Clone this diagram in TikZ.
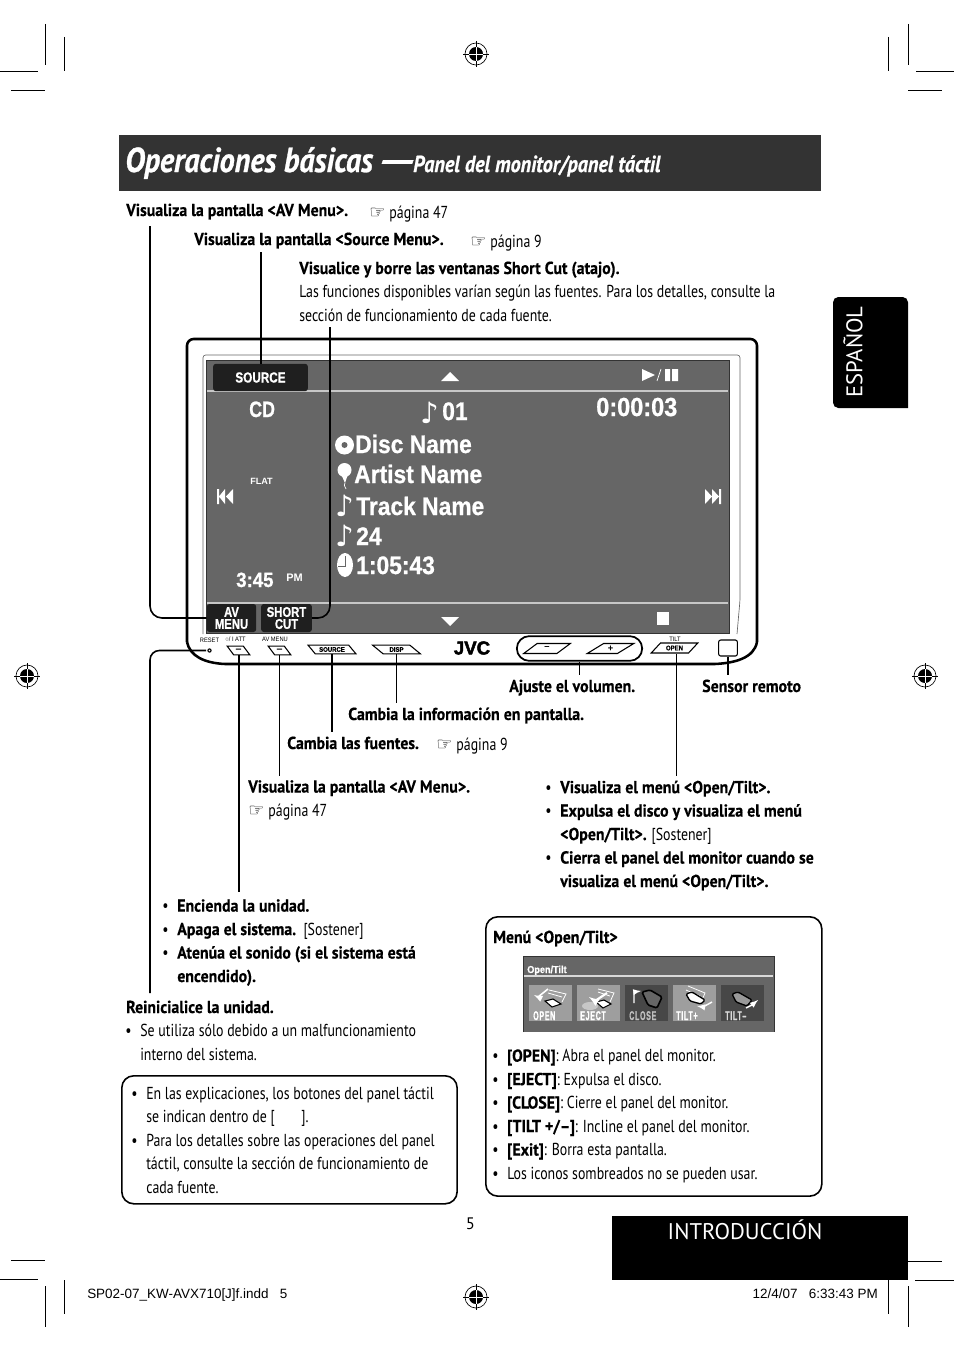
\documentclass[tikz,border=0pt]{standalone}
\usepackage{fontspec}
\usepackage{tikz}
\usetikzlibrary{positioning, shapes.geometric, shapes.misc}
\setmainfont[FakeStretch=0.80, BoldFeatures={FakeStretch=0.915, FakeBold=0.4}, BoldItalicFeatures={FakeStretch=0.87, FakeBold=0.8}]{PT Sans}
\newfontfamily\dispfont[FakeStretch=0.90, BoldFeatures={FakeBold=0.8}]{Liberation Sans}
\newfontfamily\dispnarrow[FakeStretch=0.80, BoldFeatures={FakeBold=0.8}]{Liberation Sans}
\newfontfamily\wideform{Liberation Sans}
\newfontfamily\logofont[BoldFeatures={FakeBold=2.5}]{Liberation Sans}
\newfontfamily\iconfont[FakeStretch=0.55, LetterSpace=6, BoldFeatures={FakeBold=1}]{Liberation Sans}
\newfontfamily\symfont{DejaVu Sans}
\newfontfamily\tabfont{PT Sans}
\newcommand{\hand}{{\symfont\fontsize{13.5}{14}\selectfont ☞}\hspace{3pt}}

\begin{document}
\begin{tikzpicture}[x=0.75pt, y=-0.75pt,
  txt/.style={anchor=base west, yshift=-0.75pt, inner sep=0pt, align=left, font=\fontsize{13}{17.6}\selectfont},
  head/.style={txt, font=\fontsize{13}{17.6}\selectfont\bfseries},
  conn/.style={line width=1.2pt, black},
  toLbl/.style={conn, shorten >=3pt},
  crop/.style={line width=0.6pt, black},
  scr/.style={inner sep=0pt, text=white, font=\dispnarrow\bfseries\fontsize{16.7}{18}\selectfont, anchor=base west},
  trackline/.style={scr, yshift=0.75pt, font=\dispfont\bfseries\fontsize{19}{20}\selectfont},
  dispbtn/.style={fill=black!88, rounded corners=2pt, inner sep=0pt, align=center, text=white,
                  font=\dispnarrow\bfseries\fontsize{10.6}{9}\selectfont},
  panelbtn/.style={draw, trapezium, line width=0.8pt, inner sep=0pt, minimum height=6.6pt,
                   font=\dispfont\bfseries\fontsize{5}{5}\selectfont, fill=white, trapezium stretches=true},
  leanl/.style={panelbtn, trapezium left angle=140, trapezium right angle=40},
  leanr/.style={panelbtn, trapezium left angle=40, trapezium right angle=140},
  small/.style={inner sep=0pt, font=\dispfont\fontsize{4.8}{5}\selectfont},
  tiltbtn/.style={inner sep=0pt, anchor=north west, minimum width=32pt, minimum height=27pt},
  tiltlab/.style={inner sep=0pt, anchor=base west, font=\iconfont\bfseries\fontsize{9.5}{9}\selectfont},
  notebox/.style={draw, line width=1.2pt, rounded corners=9pt, inner sep=0pt}]
\useasboundingbox (0,0) rectangle (954,1352);

% printer marks
\draw[crop] (45,24) -- (45,65) (64,37) -- (64,71) (0,71) -- (38,71) (11,90) -- (45,90);
\draw[crop] (888,37) -- (888,71) (908,24) -- (908,65) (916,71) -- (954,71) (908,90) -- (942,90);
\draw[crop] (11,1260) -- (45,1260) (0,1279) -- (38,1279) (64,1280) -- (64,1314) (45,1286) -- (45,1327);
\draw[crop] (908,1261) -- (942,1261) (915,1280) -- (954,1280) (888,1280) -- (888,1314) (908,1286) -- (908,1327);
\foreach \mx/\my in {476/54, 27/676, 925/676, 476/1297} {
  \draw[line width=0.5pt] (\mx,\my) circle[radius=11];
  \fill (\mx,\my) circle[radius=7];
  \draw[line width=0.4pt] (\mx-13,\my) -- (\mx+13,\my) (\mx,\my-13) -- (\mx,\my+13);
  \draw[line width=0.4pt, white] (\mx-7,\my) -- (\mx+7,\my) (\mx,\my-7) -- (\mx,\my+7);
}

% title bar and tabs
\fill[black!80] (119,135) rectangle (821,191);
\node[inner sep=0pt, anchor=base west, text=white, font=\fontsize{26}{28}\selectfont\bfseries\itshape] (title) at (125,172) {Operaciones básicas\hspace{2.5pt}\scalebox{1.75}[1]{—}};
\node[inner sep=0pt, anchor=base west, text=white, font=\fontsize{17.4}{18}\selectfont\bfseries\itshape] (subtitle) at (413,172) {Panel del monitor/panel táctil};
\fill[black, rounded corners=4pt] (908,408) -- (833,408) -- (833,297) -- (908,297) [sharp corners] -- cycle;
\node[rotate=90, inner sep=0pt, text=white, font=\tabfont\fontsize{17}{18}\selectfont] (espanol) at (853,352) {ESPAÑOL};
\fill[black] (612,1216) rectangle (908,1280);
\node[inner sep=0pt, text=white, font=\tabfont\fontsize{17}{18}\selectfont] (intro) at (745,1230) {INTRODUCCIÓN};
\node[inner sep=0pt, font=\tabfont\fontsize{12.5}{14}\selectfont] (pagenum) at (470.5,1224) {5};

% top labels
\node[head] (lblav) at (126,215) {Visualiza la pantalla <AV Menu>.};
\node[txt] (refav) at (369,217) {\hand página 47};
\node[head] (lblsrc) at (194,244) {Visualiza la pantalla <Source Menu>.};
\node[txt] (refsrc) at (470,246) {\hand página 9};
\node[head] (lblshort) at (299,273) {Visualice y borre las ventanas Short Cut (atajo).};
\node[txt] (infoshort) at (299,320) {Las funciones disponibles varían según las fuentes. Para los detalles, consulte la\\
  sección de funcionamiento de cada fuente.};

% unit
\draw[line width=1.9pt, rounded corners=5pt] (187,642) -- (187,339) -- (757,339) -- (757,642);
\draw[line width=1.9pt] (187,642) .. controls (190,656) and (204,663) .. (225,664) -- (715,664) .. controls (735,663) and (754,658) .. (757,642);
\draw[line width=0.5pt, black!60, rounded corners=2pt] (203,634) -- (203,355) -- (740,355) -- (740,600) -- (737,634);
\fill[black!60] (206,360) rectangle (729,633);
\draw[line width=0.6pt, black!80] (206,633) -- (729,633) -- (729,360) -- (206,360) -- cycle;
\draw[line width=1pt, black!22] (207,391) -- (728,391) (207,603) -- (728,603);

\node[dispbtn, minimum width=71pt, minimum height=20.5pt, font=\dispnarrow\bfseries\fontsize{11}{11}\selectfont] (srcbtn) at (260.5,377.5) {SOURCE};
\node[dispbtn, minimum width=37pt, minimum height=21pt] (avbtn) at (231.5,618) {AV\\MENU};
\node[dispbtn, minimum width=38pt, minimum height=21pt] (shortbtn) at (286.5,618) {SHORT\\CUT};

\node[scr] (cd) at (249,417) {CD};
\node[scr, font=\wideform\bfseries\fontsize{6.8}{8}\selectfont] (flat) at (250,484) {FLAT};
\node[scr, font=\dispfont\bfseries\fontsize{15.5}{16}\selectfont] (clock) at (236,587) {3:45};
\node[scr, font=\wideform\bfseries\fontsize{8.2}{9}\selectfont] (pm) at (286,581) {PM};
\node[trackline, font=\dispfont\bfseries\fontsize{19.6}{22}\selectfont] (elapsed) at (596,417) {0:00:03};
\node[trackline] (tracknum) at (442,421) {01};
\node[trackline] (disc) at (355,454) {Disc Name};
\node[trackline] (artist) at (354,484) {Artist Name};
\node[trackline] (track) at (356,516) {Track Name};
\node[trackline] (count) at (356,546) {24};
\node[trackline] (time) at (356,575) {1:05:43};
\foreach \nx/\ny in {420/423, 335/516, 335/546} {
  \node[scr, font=\symfont\fontsize{22}{24}\selectfont] at (\nx,\ny) {♪};
}
% screen icons
\fill[white] (441,381) -- (459,381) -- (450,372) -- cycle;
\fill[white] (441,617) -- (459,617) -- (450,626) -- cycle;
\fill[white] (642,369) -- (655,375) -- (642,381) -- cycle;
\draw[white, line width=0.5pt] (657,381) -- (661,369);
\fill[white] (665,369) rectangle (670,381) (672,369) rectangle (678,381);
\fill[white] (217,489) rectangle (219,504) (225,489) -- (225,504) -- (219,496.5) -- cycle (233,489) -- (233,504) -- (226,496.5) -- cycle;
\fill[white] (719,489) rectangle (721,504) (712,489) -- (712,504) -- (719,496.5) -- cycle (705,489) -- (705,504) -- (712,496.5) -- cycle;
\fill[white] (657,612) rectangle (669,625);
\fill[white] (344.5,445) circle[radius=9.5];
\fill[black!60] (344.5,445) circle[radius=3];
\fill[white] (344.5,470) circle[radius=7];
\fill[white] (341,474) -- (348,474) -- (345,483) -- cycle;
\draw[white, line width=0.5pt] (345,483) .. controls (343,486) and (346,487) .. (346,489);
\fill[white] (345,565) ellipse[x radius=8, y radius=12];
\draw[black!60, line width=0.6pt] (345,556) -- (345,566) -- (338,566);

% panel controls
\node[small] (resettxt) at (209.5,640) {RESET};
\fill (209.5,650.5) circle[radius=2.2];
\fill[white] (209.5,650.5) circle[radius=0.8];
\coordinate (resetdot) at (206,650.5);
\node[small] (pwrtxt) at (235.5,639) {○/ I ATT};
\node[small] (avtxt) at (275,639) {AV MENU};
\node[leanl, minimum width=17pt, font=\wideform\bfseries\fontsize{8}{6}\selectfont] (pwrbtn) at (238.5,650.5) {–};
\node[leanl, minimum width=17pt, font=\wideform\bfseries\fontsize{8}{6}\selectfont] (avmbtn) at (279.5,650.5) {–};
\node[leanl, minimum width=36pt] (srcpanel) at (332,649.5) {SOURCE};
\node[leanl, minimum width=36pt] (disppanel) at (396.5,649.5) {DISP};
\node[inner sep=0pt, font=\logofont\bfseries\fontsize{14}{14}\selectfont] (jvc) at (472,648) {JVC};
\node[draw, rounded rectangle, line width=1.3pt, minimum width=94pt, minimum height=18.5pt, inner sep=0pt] (volpad) at (579.5,648.5) {};
\node[leanr, minimum width=35pt, minimum height=7.5pt, font=\wideform\bfseries\fontsize{7}{7}\selectfont] (volminus) at (547,648.5) {–};
\node[leanr, minimum width=35pt, minimum height=7.5pt, font=\wideform\bfseries\fontsize{7}{7}\selectfont] (volplus) at (610.5,648.5) {+};
\node[leanr, minimum width=35pt, minimum height=7.5pt] (openbtn) at (674.5,648) {OPEN};
\node[small] (tilttxt) at (675,639) {TILT};
\node[draw, line width=0.8pt, rounded corners=1.5pt, minimum width=14pt, minimum height=12pt, inner sep=0pt] (sensor) at (728,648) {};

% bottom labels
\node[head] (lblvol) at (509,691) {Ajuste el volumen.};
\node[head] (lblsensor) at (702,691) {Sensor remoto};
\node[head] (lbldisp) at (348,719) {Cambia la información en pantalla.};
\node[head] (lblfuentes) at (287,748) {Cambia las fuentes.};
\node[txt] (reffuentes) at (436,749) {\hand página 9};
\node[txt] (lblavlow) at (248,815) {\textbf{Visualiza la pantalla <AV Menu>.}\\ \hand página 47};
\node[txt] (lstopen) at (560,886) {\llap{•\hspace{6.5pt}}\textbf{Visualiza el menú <Open/Tilt>.}\\
  \llap{•\hspace{6.5pt}}\textbf{Expulsa el disco y visualiza el menú}\\
  \textbf{<Open/Tilt>.} [Sostener]\\
  \llap{•\hspace{6.5pt}}\textbf{Cierra el panel del monitor cuando se}\\
  \textbf{visualiza el menú <Open/Tilt>.}};
\node[txt] (lstpower) at (177,981) {\llap{•\hspace{6.5pt}}\textbf{Encienda la unidad.}\\
  \llap{•\hspace{6.5pt}}\textbf{Apaga el sistema.}\ \ [Sostener]\\
  \llap{•\hspace{6.5pt}}\textbf{Atenúa el sonido (si el sistema está}\\
  \textbf{encendido).}};
\node[head] (lblreset) at (126,1012) {Reinicialice la unidad.};
\node[txt] (lstreset) at (140,1059) {\llap{•\hspace{6.5pt}}Se utiliza sólo debido a un malfuncionamiento\\
  interno del sistema.};

% note boxes
\node[notebox, minimum width=251.5pt, minimum height=96pt, anchor=north west] (notes) at (121,1075) {};
\node[txt] (lstnotes) at (146,1192) {\llap{•\hspace{6.5pt}}En las explicaciones, los botones del panel táctil\\
  se indican dentro de [\hspace{20pt}].\\
  \llap{•\hspace{6.5pt}}Para los detalles sobre las operaciones del panel\\
  táctil, consulte la sección de funcionamiento de\\
  cada fuente.};
\node[notebox, minimum width=252pt, minimum height=209.5pt, anchor=north west] (menubox) at (485,916) {};
\node[head] (lblmenu) at (493,942) {Menú <Open/Tilt>};
\node[txt] (lstmenu) at (507,1178) {\llap{•\hspace{6.5pt}}\textbf{[OPEN]}: Abra el panel del monitor.\\
  \llap{•\hspace{6.5pt}}\textbf{[EJECT]}: Expulsa el disco.\\
  \llap{•\hspace{6.5pt}}\textbf{[CLOSE]}: Cierre el panel del monitor.\\
  \llap{•\hspace{6.5pt}}\textbf{[TILT +/--]}: Incline el panel del monitor.\\
  \llap{•\hspace{6.5pt}}\textbf{[Exit]}: Borra esta pantalla.\\
  \llap{•\hspace{6.5pt}}Los iconos sombreados no se pueden usar.};

% open/tilt window
\fill[black!60] (523,956) rectangle (774,1032);
\draw[black!80, line width=0.6pt] (523,1032) -- (523,956) -- (774,956) -- (774,1032);
\node[scr, font=\dispfont\bfseries\fontsize{7.6}{8}\selectfont] (tilttitle) at (527,973) {Open/Tilt};
\draw[white!85!black, line width=0.9pt] (524,976) -- (773,976);
\foreach \bx/\bcol/\bname in {529/black!38/open, 577/black!38/eject, 625/black!72/close, 673/black!38/tiltp, 721/black!72/tiltm} {
  \node[tiltbtn, fill=\bcol] (\bname) at (\bx,985) {};
}
\node[tiltlab, text=white] at (533,1020) {OPEN};
\node[tiltlab, text=white] at (580,1020) {EJECT};
\node[tiltlab, text=black!25] at (629,1020) {CLOSE};
\node[tiltlab, text=white] at (676,1020) {TILT+};
\node[tiltlab, text=black!15] at (725,1020) {TILT–};
% open icon
\draw[white, line width=0.6pt] (549,990) -- (566,994) -- (562,1002) (548,993) -- (562,997);
\draw[black, fill=white, line width=0.8pt] (545,1001) -- (553,999) -- (561,1004) -- (552,1007) -- cycle;
\draw[white, line width=1.2pt, -latex] (548,989) -- (538,997) -- (534,995);
% eject icon
\draw[white, line width=0.6pt] (598,989) -- (614,993) -- (610,1002) (598,992) -- (610,996);
\fill[black!22] (590,1006) ellipse[x radius=8, y radius=4];
\draw[black, fill=white, line width=0.8pt] (596,1002) -- (604,1000) -- (611,1004) -- (603,1008) -- cycle;
\draw[white, line width=1.6pt, -latex] (607,993) -- (595,1001) -- (589,997);
% close icon
\draw[black, fill=black!60, line width=1.2pt, rounded corners=1pt] (642,992) -- (650,990) -- (662,997) -- (657,1008) -- (648,1005) -- cycle;
\draw[white, line width=1pt, -latex] (634,1003) -- (634,992) -- (641,991);
% tilt+ icon
\draw[white, line width=0.6pt] (688,986) -- (705,993) -- (702,1000) (686,990) -- (700,996);
\draw[black, fill=white, line width=1pt, rounded corners=1pt] (686,994) -- (692,992) -- (705,1000) -- (701,1004) -- (690,1001) -- cycle;
\draw[white, line width=1.1pt, -latex] (712,1002) -- (703,1007) -- (697,1006);
% tilt- icon
\draw[black, fill=black!40, line width=1pt, rounded corners=1pt] (732,994) -- (738,992) -- (752,1000) -- (747,1006) -- (736,1002) -- cycle;
\draw[white, line width=1.1pt, -latex] (746,1008) -- (752,1005) -- (758,1000);

% connectors
\coordinate (avend) at (150,226);
\coordinate (srcend) at (261,252);
\coordinate (shortend) at (330,327);
\coordinate (resetend) at (150,993);
\coordinate (pwrend) at (239,892);
\coordinate (openfoot) at (676.5,654);
\draw[conn, rounded corners=9pt] (avend) |- (avbtn.west);
\draw[conn] (srcend) -- (srcbtn.north -| srcend);
\draw[conn, rounded corners=9pt] (shortend) |- (shortbtn.east);
\draw[conn, rounded corners=7pt] (resetdot) -| (resetend);
\draw[conn] (pwrbtn.south -| pwrend) -- (pwrend);
\draw[toLbl] (avmbtn.south) -- (avmbtn.south |- lblavlow.north);
\draw[toLbl] (srcpanel.south) -- (srcpanel.south |- lblfuentes.north);
\draw[toLbl] (disppanel.south) -- (disppanel.south |- lbldisp.north);
\draw[toLbl] (volpad.south) -- (volpad.south |- lblvol.north);
\draw[toLbl] (openfoot) -- (openfoot |- lstopen.north);
\draw[toLbl] (sensor.south) -- (sensor.south |- lblsensor.north);

% footer
\node[inner sep=0pt, anchor=base west, font=\wideform\fontsize{10.1}{11}\selectfont] (slug) at (87,1298) {SP02-07\_KW-AVX710[J]f.indd\ \ \ 5};
\node[inner sep=0pt, anchor=base east, font=\wideform\fontsize{10.1}{11}\selectfont] (stamp) at (878,1298) {12/4/07\ \ \ 6:33:43 PM};
\end{tikzpicture}
\end{document}
